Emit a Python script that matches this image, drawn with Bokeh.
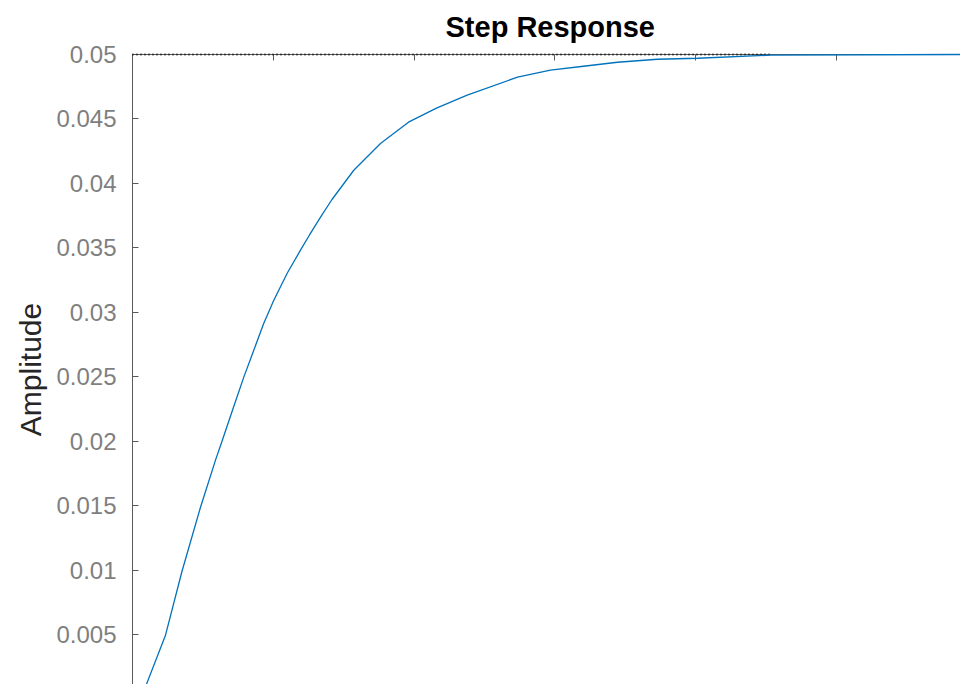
from bokeh.plotting import figure
from bokeh.models import Range1d, FixedTicker, CustomLabelingPolicy
from bokeh.embed import file_html
from bokeh.resources import INLINE

# Step response samples (time in tick units, amplitude)
time = [0.0, 0.0994, 0.2344, 0.3516, 0.4830, 0.5895, 0.6357, 0.7173, 0.7905,
        0.8615, 0.9325, 1.0036, 1.0987, 1.1932, 1.2571, 1.3423, 1.4169, 1.5717,
        1.7614, 1.9602, 2.1591, 2.3771, 2.7344, 2.9688, 3.2031, 3.4446, 3.7287,
        4.0128, 4.5313, 5.881]
amplitude = [0.0, 0.00115, 0.00495, 0.00991, 0.01488, 0.01853, 0.02000, 0.02264,
             0.02497, 0.02706, 0.02915, 0.03094, 0.03303, 0.03482, 0.03600,
             0.03750, 0.03875, 0.04102, 0.04310, 0.04475, 0.04584, 0.04685,
             0.04824, 0.04879, 0.04909, 0.04940, 0.04963, 0.04971, 0.04995, 0.05]

steady_value = 0.05
steady_time = [0.0, 4.531]

y_ticks = [0.005, 0.01, 0.015, 0.02, 0.025, 0.03, 0.035, 0.04, 0.045, 0.05]
y_tick_labels = ["0.005", "0.01", "0.015", "0.02", "0.025", "0.03", "0.035",
                 "0.04", "0.045", "0.05"]
x_ticks = [0, 1, 2, 3, 4, 5]
title_text = "Step Response"

FONT = "Liberation Sans"

p = figure(width=960, height=684, output_backend="svg", toolbar_location=None,
           x_axis_location="above",
           x_range=Range1d(0, 5.881), y_range=Range1d(0.001125, 0.05),
           min_border_left=132, min_border_top=54, min_border_right=0,
           min_border_bottom=0)
p.outline_line_color = None
p.grid.visible = False
p.background_fill_color = "white"
p.border_fill_color = "white"

p.title.text = title_text
p.title.align = "left"
p.title.offset = 313
p.title.vertical_align = "top"
p.title.standoff = 19
p.title.text_font = FONT
p.title.text_font_size = "29px"
p.title.text_font_style = "bold"
p.title.text_color = "#000000"

# top axis: ticks only, no labels
xa = p.xaxis[0]
xa.ticker = FixedTicker(ticks=x_ticks)
xa.major_label_policy = CustomLabelingPolicy(code="return new Set()")
xa.major_label_text_font_size = "0px"
xa.major_label_standoff = 0
xa.major_tick_in = 6
xa.major_tick_out = 0
xa.minor_tick_in = 0
xa.minor_tick_out = 0
xa.axis_line_color = "#5a5a5a"
xa.major_tick_line_color = "#5a5a5a"

ya = p.yaxis[0]
ya.ticker = FixedTicker(ticks=y_ticks)
ya.major_label_overrides = {t: l for t, l in zip(y_ticks, y_tick_labels)}
ya.major_label_text_font = FONT
ya.major_label_text_font_size = "24px"
ya.major_label_text_color = "#7f7f7f"
ya.major_label_standoff = 16
ya.major_tick_in = 6
ya.major_tick_out = 0
ya.minor_tick_in = 0
ya.minor_tick_out = 0
ya.axis_line_color = "#5a5a5a"
ya.major_tick_line_color = "#5a5a5a"
ya.axis_label = "Amplitude"
ya.axis_label_text_font = FONT
ya.axis_label_text_font_size = "30px"
ya.axis_label_text_font_style = "normal"
ya.axis_label_text_color = "#262626"
ya.axis_label_standoff = 6

p.line(steady_time, [steady_value, steady_value], line_color="black",
       line_width=2, line_dash="1 3", level="overlay")
p.line(time, amplitude, line_color="#0072BD", line_width=1.3, level="overlay")

open("out.html", "w").write(file_html(p, INLINE))
